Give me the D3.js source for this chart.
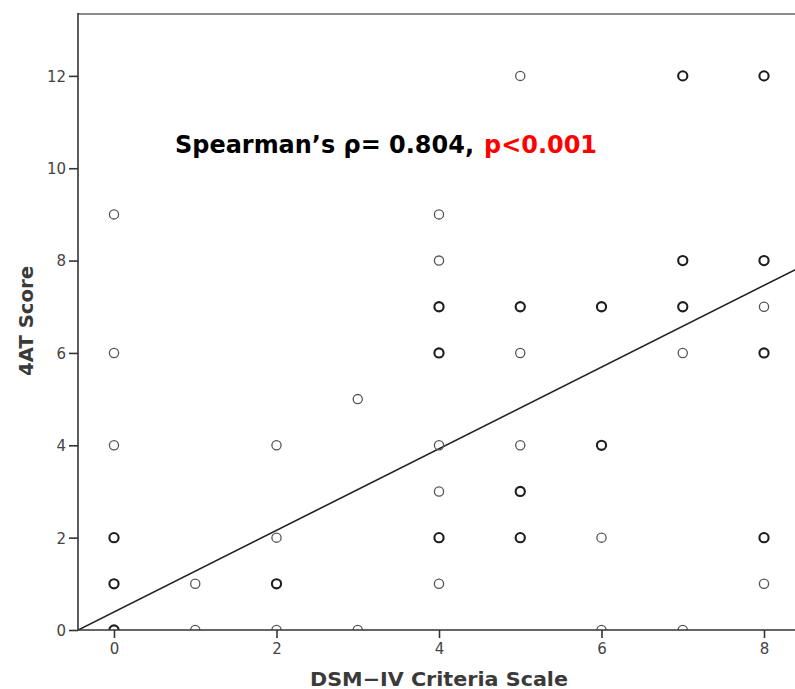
<!DOCTYPE html>
<html>
<head>
<meta charset="utf-8">
<script src="https://cdn.jsdelivr.net/npm/d3@7/dist/d3.min.js"></script>
<style>
  html, body { margin: 0; padding: 0; background: #fff; }
  svg { display: block; }
</style>
</head>
<body>
<svg id="chart" width="795" height="689"></svg>
<script>
// ---- Data ----
const dsmScores = [0,0,0,0,0,0, 1,1, 2,2,2,2, 3,3, 4,4,4,4,4,4,4,4, 5,5,5,5,5,5, 6,6,6,6, 7,7,7,7,7, 8,8,8,8,8,8];
const fourATScores = [0,1,2,4,6,9, 0,1, 0,1,2,4, 0,5, 1,2,3,4,6,7,8,9, 2,3,4,6,7,12, 0,2,4,7, 0,6,7,8,12, 1,2,6,7,8,12];
const overlapCounts = [2,2,2,1,1,1, 1,1, 1,2,1,1, 1,1, 1,2,1,1,2,2,1,1, 2,2,1,1,2,1, 1,1,2,2, 1,1,2,2,2, 1,2,2,1,2,2];
const xTicks = [0, 2, 4, 6, 8];
const yTicks = [0, 2, 4, 6, 8, 10, 12];
const fitIntercept = 0.39;
const fitSlope = 0.884;
const xTitle = "DSM\u2212IV Criteria Scale";
const yTitle = "4AT Score";
const annotationMain = "Spearman\u2019s \u03c1= 0.804,";
const annotationP = "p<0.001";

// ---- Layout ----
const svg = d3.select("#chart");
const pLeft = 78, pTop = 14, pBottom = 630, pRight = 800;
const x = d3.scaleLinear().domain([-0.443, 8.443]).range([pLeft, pRight]);
const y = d3.scaleLinear().domain([0, 13.34]).range([pBottom, pTop]);

svg.append("defs").append("clipPath").attr("id", "plotClip")
  .append("rect").attr("x", pLeft).attr("y", pTop).attr("width", pRight - pLeft).attr("height", pBottom - pTop);

// top frame line
svg.append("line")
  .attr("x1", pLeft).attr("x2", 795).attr("y1", pTop).attr("y2", pTop)
  .attr("stroke", "#8c8c8c").attr("stroke-width", 2);

const plot = svg.append("g").attr("clip-path", "url(#plotClip)");

// regression line
const xd = x.domain();
plot.append("line")
  .attr("x1", x(xd[0])).attr("y1", y(fitIntercept + fitSlope * xd[0]))
  .attr("x2", x(xd[1])).attr("y2", y(fitIntercept + fitSlope * xd[1]))
  .attr("stroke", "#222").attr("stroke-width", 1.6);

// points
plot.selectAll("circle.pt").data(dsmScores.map((d, i) => ({x: d, y: fourATScores[i], n: overlapCounts[i]})))
  .enter().append("circle")
  .attr("class", "pt")
  .attr("cx", d => x(d.x)).attr("cy", d => y(d.y))
  .attr("r", 4.6)
  .attr("fill", "none")
  .attr("stroke", d => d.n > 1 ? "#1e1e1e" : "#555")
  .attr("stroke-width", d => d.n > 1 ? 2.1 : 1.3);

// axes
const tickFont = "'DejaVu Sans', sans-serif";
const yAxis = svg.append("g").attr("transform", `translate(${pLeft},0)`)
  .call(d3.axisLeft(y).tickValues(yTicks).tickSize(9).tickSizeOuter(0).tickFormat(d3.format("d")));
const xAxis = svg.append("g").attr("transform", `translate(0,${pBottom})`)
  .call(d3.axisBottom(x).tickValues(xTicks).tickSize(8).tickSizeOuter(0).tickFormat(d3.format("d")));

[yAxis, xAxis].forEach(g => {
  g.select(".domain").attr("stroke", "#333").attr("stroke-width", 1.6);
  g.selectAll(".tick line").attr("stroke", "#333").attr("stroke-width", 1.6);
  g.selectAll(".tick text").attr("fill", "#444").attr("font-family", tickFont).attr("font-size", 15);
});
yAxis.select(".domain").attr("d", `M0,${pBottom + 0.5}V${pTop - 1}`);
xAxis.select(".domain").attr("d", `M${pLeft},0H795`);
yAxis.selectAll(".tick text").attr("x", -12).attr("dy", "0.36em");
xAxis.selectAll(".tick text").attr("y", 13).attr("dy", "0.71em");

// axis titles
const titleFont = "'DejaVu Sans', sans-serif";
svg.append("text")
  .attr("x", 439).attr("y", 686)
  .attr("text-anchor", "middle")
  .attr("font-family", titleFont).attr("font-weight", "bold").attr("font-size", 20)
  .attr("fill", "#3a3a3a")
  .attr("textLength", 258).attr("lengthAdjust", "spacingAndGlyphs")
  .text(xTitle);

svg.append("text")
  .attr("transform", "translate(33,321) rotate(-90)")
  .attr("text-anchor", "middle")
  .attr("font-family", titleFont).attr("font-weight", "bold").attr("font-size", 20)
  .attr("fill", "#3a3a3a")
  .attr("textLength", 110).attr("lengthAdjust", "spacingAndGlyphs")
  .text(yTitle);

// annotation: two text pieces, fitted to the reference span 175..597
const annStart = 175, annEnd = 597, annGap = 10;
const a1 = svg.append("text")
  .attr("x", annStart).attr("y", 153)
  .attr("font-family", titleFont).attr("font-weight", "bold").attr("font-size", 25)
  .attr("fill", "#000").text(annotationMain);
const a2 = svg.append("text")
  .attr("y", 153)
  .attr("font-family", titleFont).attr("font-weight", "bold").attr("font-size", 25)
  .attr("fill", "#ff0000").text(annotationP);
const w1 = a1.node().getComputedTextLength();
const w2 = a2.node().getComputedTextLength();
const k = (annEnd - annStart - annGap) / (w1 + w2);
a1.attr("textLength", w1 * k).attr("lengthAdjust", "spacingAndGlyphs");
a2.attr("x", annStart + w1 * k + annGap)
  .attr("textLength", w2 * k).attr("lengthAdjust", "spacingAndGlyphs");
</script>
</body>
</html>
